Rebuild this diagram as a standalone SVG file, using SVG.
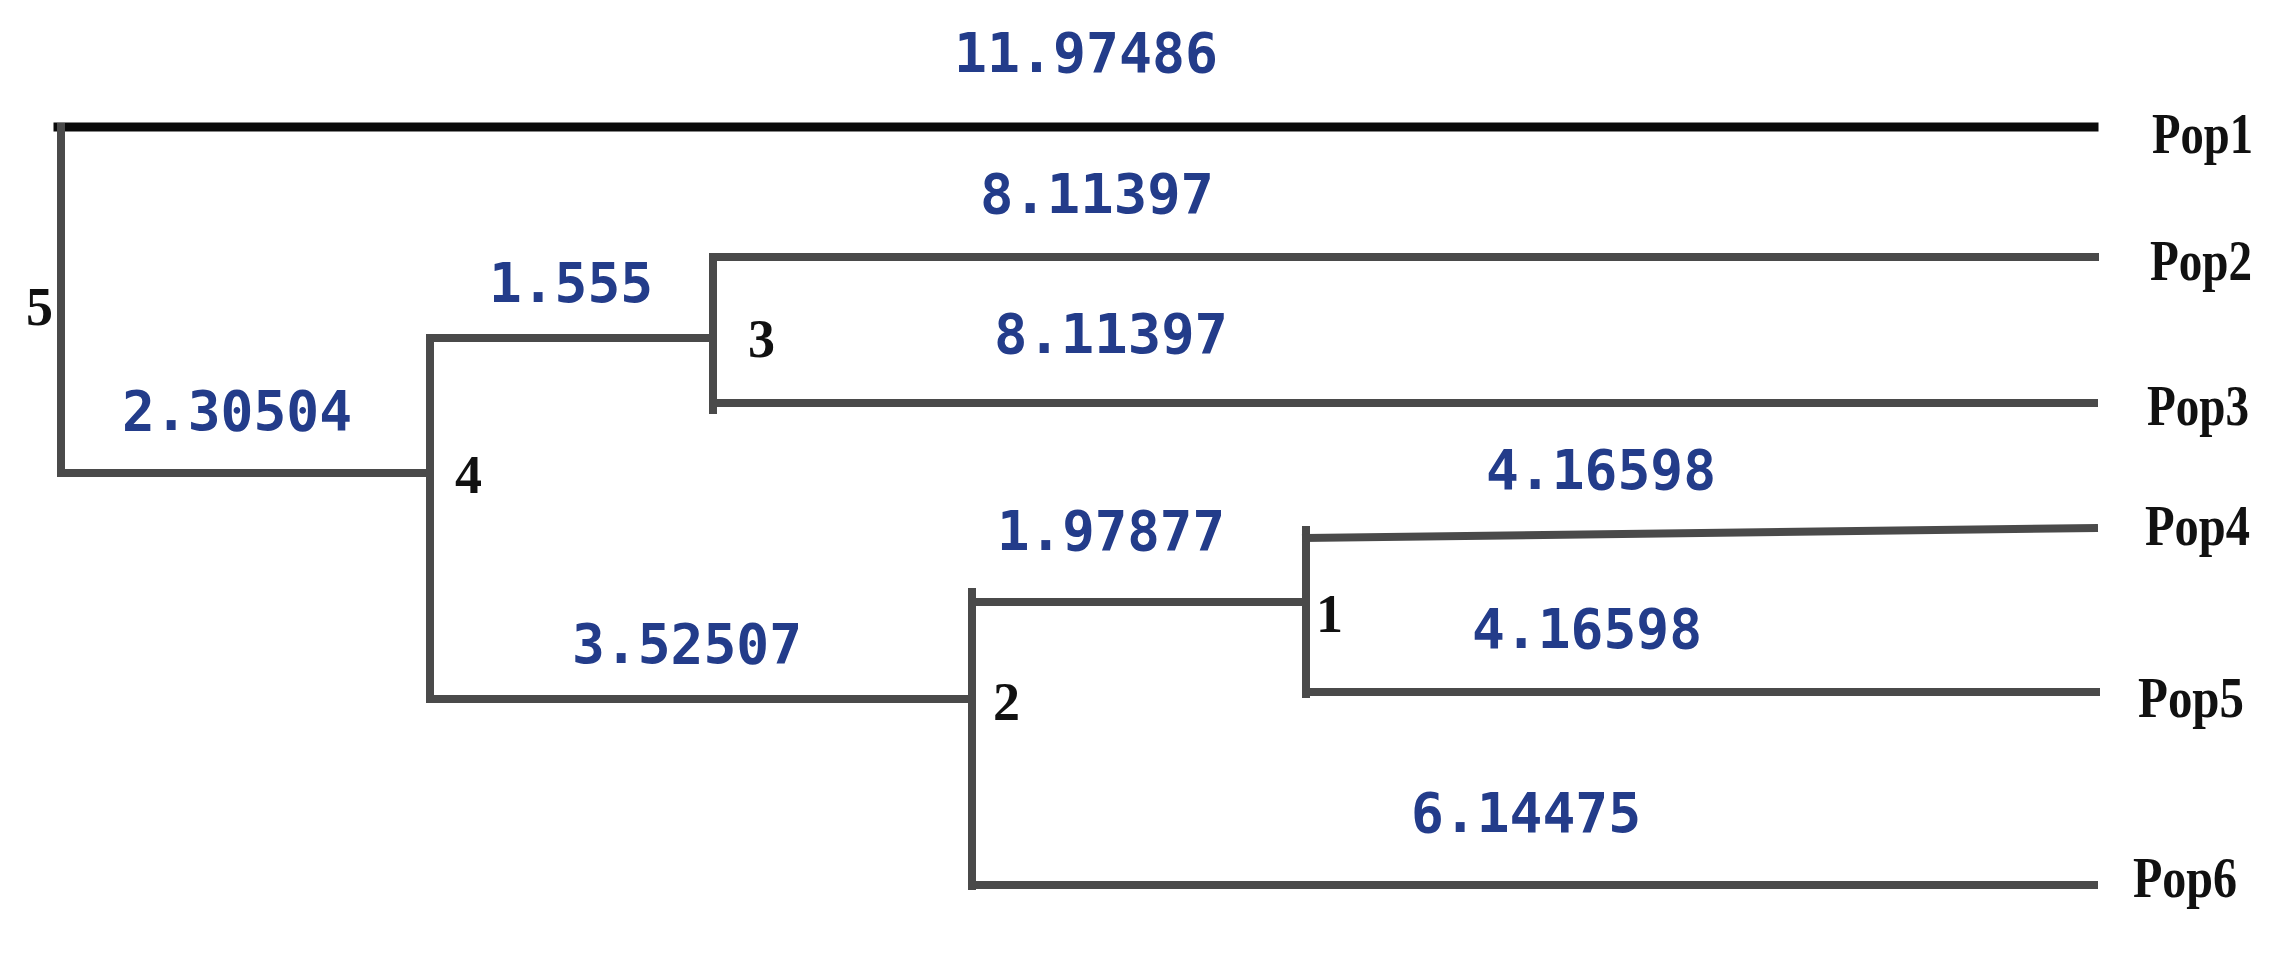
<svg xmlns="http://www.w3.org/2000/svg" width="2270" height="953" viewBox="0 0 2270 953">
<style>
.br{stroke:#4a4a4a;stroke-width:8;fill:none;stroke-linecap:square}
.br1{stroke:#0a0a0a;stroke-width:9;fill:none;stroke-linecap:square}
.len{font-family:"DejaVu Sans Mono","Liberation Mono",monospace;font-weight:bold;font-size:56px;fill:#233c8a;lengthAdjust:spacingAndGlyphs}
.nd{font-family:"Liberation Serif","Times New Roman",serif;font-weight:bold;font-size:54px;fill:#111}
.tip{font-family:"Liberation Serif","Times New Roman",serif;font-weight:bold;font-size:56px;fill:#111}
</style>
<rect width="2270" height="953" fill="#ffffff"/>
<g id="connectors">
<line class="br1" x1="58" y1="127" x2="2094" y2="127"/>
<line class="br" x1="61" y1="127" x2="61" y2="473"/>
<line class="br" x1="61" y1="473" x2="430" y2="473"/>
<line class="br" x1="430" y1="338" x2="430" y2="699"/>
<line class="br" x1="430" y1="338" x2="713" y2="338"/>
<line class="br" x1="713" y1="257" x2="713" y2="410"/>
<line class="br" x1="713" y1="257" x2="2095" y2="257"/>
<line class="br" x1="713" y1="403" x2="2094" y2="403"/>
<line class="br" x1="430" y1="699" x2="972" y2="699"/>
<line class="br" x1="972" y1="592" x2="972" y2="886"/>
<line class="br" x1="972" y1="602" x2="1306" y2="602"/>
<line class="br" x1="1306" y1="530" x2="1306" y2="694"/>
<line class="br" x1="1306" y1="538" x2="2094" y2="528"/>
<line class="br" x1="1306" y1="692" x2="2096" y2="692"/>
<line class="br" x1="972" y1="885" x2="2094" y2="885"/>
</g>
<g id="branch-lengths">
<text class="len" x="954" y="72" textLength="264" lengthAdjust="spacingAndGlyphs">11.97486</text>
<text class="len" x="980" y="213" textLength="234" lengthAdjust="spacingAndGlyphs">8.11397</text>
<text class="len" x="994" y="353" textLength="234" lengthAdjust="spacingAndGlyphs">8.11397</text>
<text class="len" x="489" y="302" textLength="164" lengthAdjust="spacingAndGlyphs">1.555</text>
<text class="len" x="122" y="430" textLength="230" lengthAdjust="spacingAndGlyphs">2.30504</text>
<text class="len" x="1486" y="489" textLength="230" lengthAdjust="spacingAndGlyphs">4.16598</text>
<text class="len" x="997" y="550" textLength="228" lengthAdjust="spacingAndGlyphs">1.97877</text>
<text class="len" x="572" y="663" textLength="230" lengthAdjust="spacingAndGlyphs">3.52507</text>
<text class="len" x="1472" y="648" textLength="230" lengthAdjust="spacingAndGlyphs">4.16598</text>
<text class="len" x="1411" y="832" textLength="230" lengthAdjust="spacingAndGlyphs">6.14475</text>
</g>
<g id="node5"><text class="nd" x="26" y="325">5</text></g>
<g id="node4"><text class="nd" x="455" y="493">4</text></g>
<g id="node3"><text class="nd" x="748" y="357">3</text></g>
<g id="node2"><text class="nd" x="993" y="720">2</text></g>
<g id="node1"><text class="nd" x="1316" y="632">1</text></g>
<g id="pop1"><text class="tip" x="2152" y="153" textLength="101" lengthAdjust="spacingAndGlyphs">Pop1</text></g>
<g id="pop2"><text class="tip" x="2150" y="280" textLength="102" lengthAdjust="spacingAndGlyphs">Pop2</text></g>
<g id="pop3"><text class="tip" x="2147" y="425" textLength="102" lengthAdjust="spacingAndGlyphs">Pop3</text></g>
<g id="pop4"><text class="tip" x="2145" y="545" textLength="105" lengthAdjust="spacingAndGlyphs">Pop4</text></g>
<g id="pop5"><text class="tip" x="2138" y="717" textLength="106" lengthAdjust="spacingAndGlyphs">Pop5</text></g>
<g id="pop6"><text class="tip" x="2133" y="897" textLength="104" lengthAdjust="spacingAndGlyphs">Pop6</text></g>
</svg>
